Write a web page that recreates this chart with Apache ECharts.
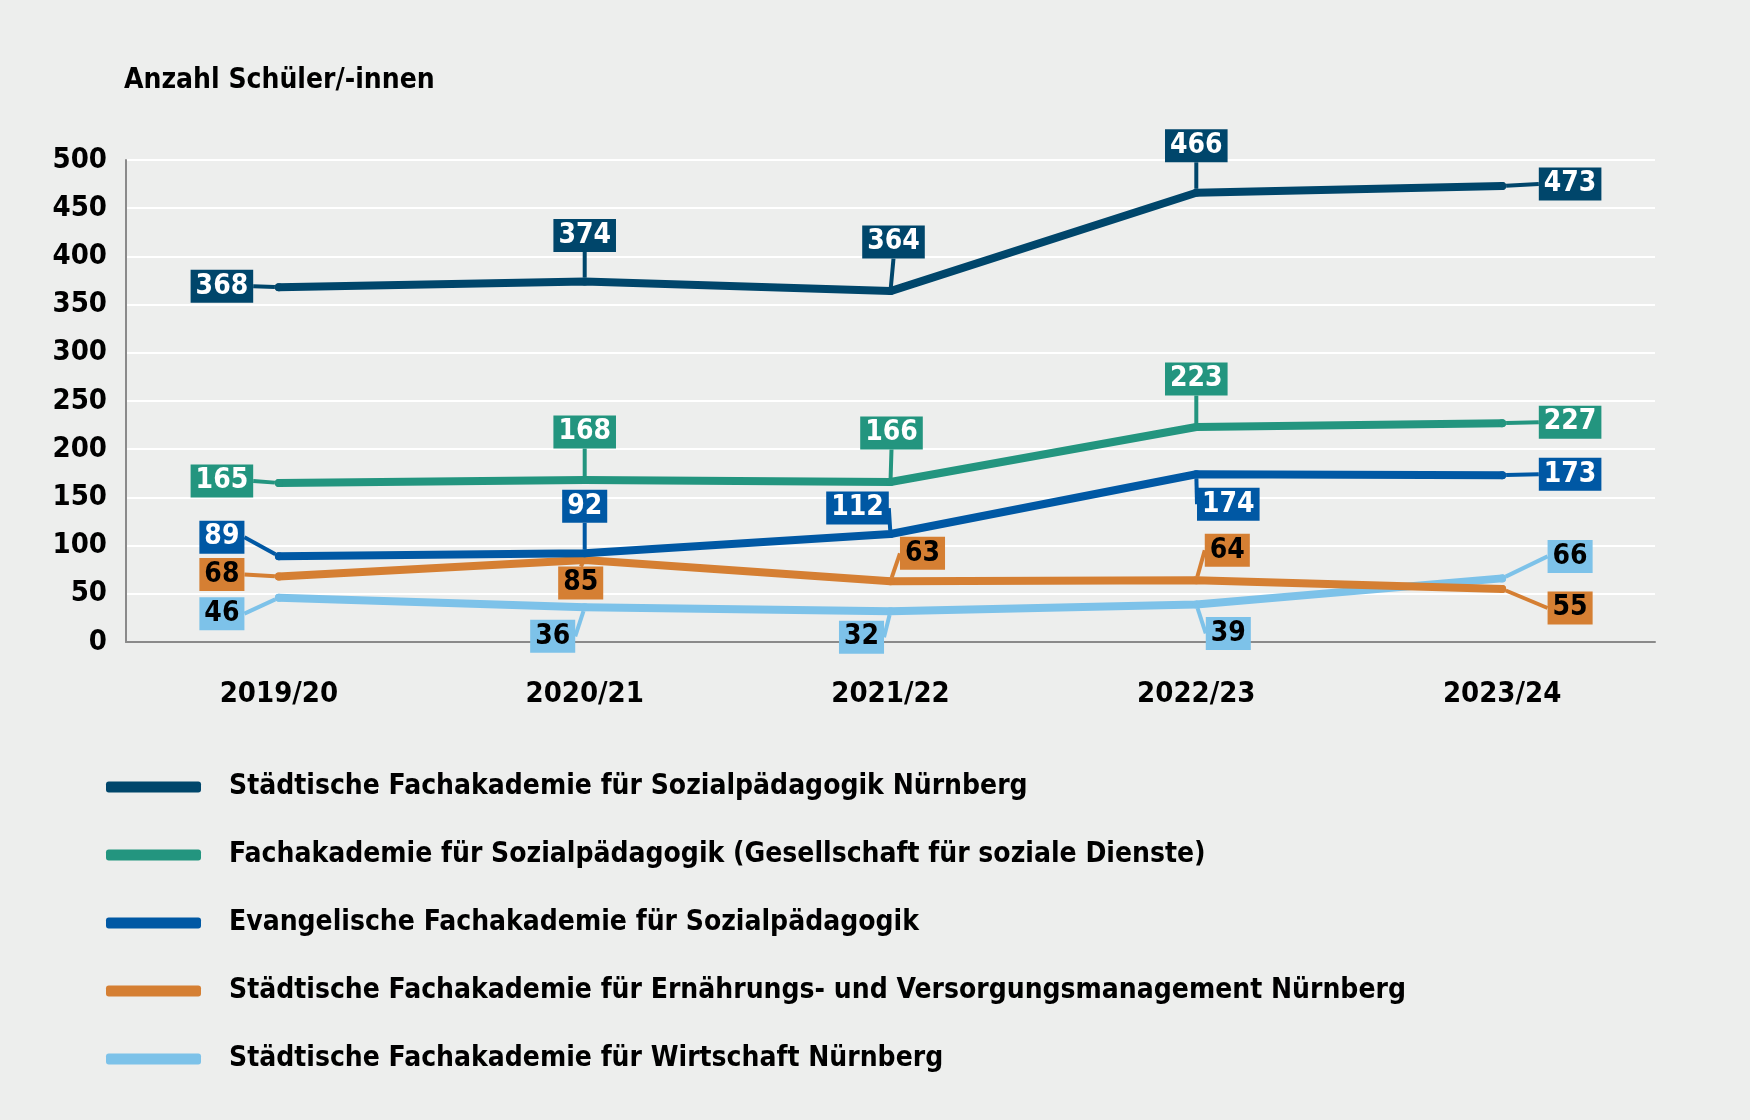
<!DOCTYPE html>
<html>
<head>
<meta charset="utf-8">
<script src="https://cdn.jsdelivr.net/npm/echarts@6/dist/echarts.min.js"></script>
<style>
  html, body { margin: 0; padding: 0; background: #edeeed; }
  #main { width: 1750px; height: 1120px; }
</style>
</head>
<body>
<div id="main"></div>
<script>
// Schuljahre
var years = ['2019/20', '2020/21', '2021/22', '2022/23', '2023/24'];

var namen = [
  'Städtische Fachakademie für Sozialpädagogik Nürnberg',
  'Fachakademie für Sozialpädagogik (Gesellschaft für soziale Dienste)',
  'Evangelische Fachakademie für Sozialpädagogik',
  'Städtische Fachakademie für Ernährungs- und Versorgungsmanagement Nürnberg',
  'Städtische Fachakademie für Wirtschaft Nürnberg'
];

// Anzahl Schüler/-innen je Akademie
var sozNbg   = [368, 374, 364, 466, 473];
var sozGfsd  = [165, 168, 166, 223, 227];
var sozEv    = [89, 92, 112, 174, 173];
var ernaehr  = [68, 85, 63, 64, 55];
var wirtsch  = [46, 36, 32, 39, 66];

var yTicks = [0, 50, 100, 150, 200, 250, 300, 350, 400, 450, 500];

var FONT = "'DejaVu Sans Condensed', 'Liberation Sans Narrow', sans-serif";

var farben = ['#00466b', '#23957f', '#0058a4', '#d57f33', '#7dc2e9'];
var textFarben = ['#fff', '#fff', '#fff', '#000', '#000'];

// Verschiebung der Beschriftungen (dx, dy) je Reihe und Punkt
var labelVersatz = [
  [[-57, -1], [0, -46], [3, -49], [0, -47], [68, -2]],
  [[-57, -2], [0, -48], [1, -49], [0, -48], [68, -1]],
  [[-57, -19], [0, -47], [-33, -26], [32, 30], [68, -1]],
  [[-57, -2], [-4, 23], [32, -28], [31, -30], [68, 19]],
  [[-57, 16], [-32, 29], [-29, 26], [32, 29], [68, -22]]
];

var werte = [sozNbg, sozGfsd, sozEv, ernaehr, wirtsch];

var chart = echarts.init(document.getElementById('main'));

function makeSeries(i){
  return {
    name: namen[i],
    type: 'line',
    data: werte[i],
    symbol: 'circle',
    symbolSize: 8,
    itemStyle: { color: farben[i] },
    lineStyle: { width: 8, color: farben[i], cap: 'round', join: 'round' },
    label: {
      show: true,
      position: 'inside',
      color: textFarben[i],
      backgroundColor: farben[i],
      fontFamily: FONT,
      fontWeight: 'bold',
      fontSize: 28,
      lineHeight: 30,
      padding: [2, 5, 1, 5]
    },
    labelLine: {
      show: true,
      lineStyle: { color: farben[i], width: 4 }
    },
    labelLayout: function(p){
      var v = labelVersatz[p.seriesIndex][p.dataIndex];
      return { dx: v[0], dy: v[1] };
    },
    z: 10 - i
  };
}

var option = {
  backgroundColor: '#edeeed',
  animation: false,
  textStyle: { fontFamily: FONT },
  title: {
    text: 'Anzahl Schüler/-innen',
    left: 119,
    top: 62,
    textStyle: { fontFamily: FONT, fontWeight: 'bold', fontSize: 28, color: '#000' }
  },
  grid: { left: 126, right: 95, top: 160, bottom: 478 },
  legend: {
    orient: 'vertical',
    left: 101,
    top: 762,
    icon: 'roundRect',
    itemWidth: 95,
    itemHeight: 11,
    itemGap: 28,
    textStyle: {
      fontFamily: FONT,
      fontWeight: 'bold',
      fontSize: 28,
      lineHeight: 40,
      color: '#000',
      padding: [0, 0, 0, 23]
    },
    data: namen
  },
  xAxis: {
    type: 'category',
    data: years,
    boundaryGap: true,
    axisLine: { lineStyle: { color: '#8a8a8a', width: 2 } },
    axisTick: { show: false },
    axisLabel: {
      color: '#000',
      fontFamily: FONT,
      fontWeight: 'bold',
      fontSize: 29,
      margin: 38
    }
  },
  yAxis: {
    type: 'value',
    min: yTicks[0],
    max: yTicks[yTicks.length - 1],
    interval: 50,
    axisLine: { show: true, lineStyle: { color: '#8a8a8a', width: 2 } },
    axisTick: { show: false },
    splitLine: { lineStyle: { color: '#ffffff', width: 2 } },
    axisLabel: {
      color: '#000',
      fontFamily: FONT,
      fontWeight: 'bold',
      fontSize: 29,
      margin: 19
    }
  },
  series: [0, 1, 2, 3, 4].map(makeSeries)
};

chart.setOption(option);
</script>
</body>
</html>
